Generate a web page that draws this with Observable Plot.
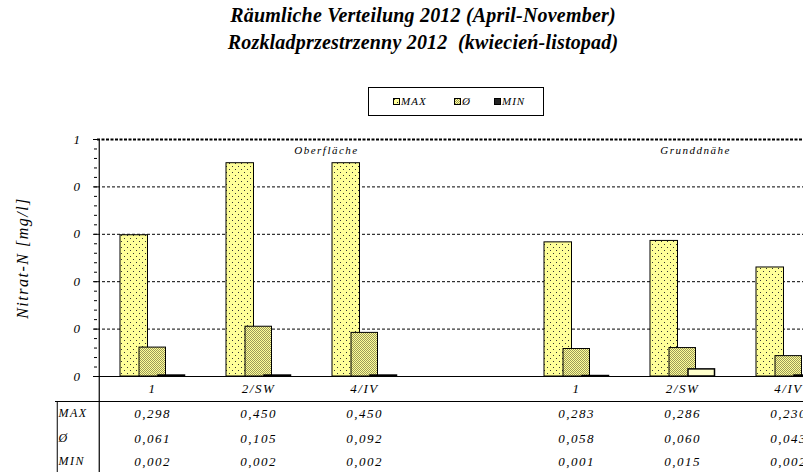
<!DOCTYPE html>
<html><head><meta charset="utf-8">
<script src="https://cdn.jsdelivr.net/npm/d3@7"></script>
<script src="https://cdn.jsdelivr.net/npm/@observablehq/plot@0.6"></script>
<style>
html,body{margin:0;padding:0;background:#fff;overflow:hidden;width:803px;height:472px;}
#wrap{position:relative;width:803px;height:472px;font-family:'Liberation Serif','Times New Roman',serif;}
#title{position:absolute;left:0;top:2px;width:846px;text-align:center;font-weight:bold;font-style:italic;font-size:20px;letter-spacing:0.2px;line-height:27px;white-space:pre;color:#000;}
#legend{position:absolute;left:368px;top:87px;width:176px;height:29px;border:1px solid #000;box-sizing:border-box;font-style:italic;font-size:11px;letter-spacing:1px;}
#legend .it{position:absolute;top:7px;display:flex;align-items:center;gap:1px;}
#legend svg{display:block}
#chart{position:absolute;left:0;top:120px;}
#chart text{letter-spacing:1.5px;}
</style></head>
<body>
<svg width="0" height="0" style="position:absolute">
<defs>
<pattern id="pMax" width="6" height="6" patternUnits="userSpaceOnUse">
<rect width="6" height="6" fill="#ffff99"/>
<rect x="1" y="1" width="1" height="1" fill="#333"/>
<rect x="4" y="4" width="1" height="1" fill="#333"/>
</pattern>
<pattern id="pAvg" width="2" height="2" patternUnits="userSpaceOnUse">
<rect width="2" height="2" fill="#ffff99"/>
<rect x="0" y="0" width="1" height="1" fill="#9c9a5a"/>
<rect x="1" y="1" width="1" height="1" fill="#9c9a5a"/>
</pattern>
</defs>
</svg>
<div id="wrap">
<div id="title">Räumliche Verteilung 2012 (April-November)
Rozkladprzestrzenny 2012  (kwiecień-listopad)</div>
<div id="legend"></div>
<div id="chart"></div>
</div>
<script>
// category slots (empty slot separates the two groups)
const slots = ["1", "2/SW", "4/IV", "", "1", "2/SW", "4/IV"];
const maxVals = [0.298, 0.450, 0.450, null, 0.283, 0.286, 0.230];
const avgVals = [0.061, 0.105, 0.092, null, 0.058, 0.060, 0.043];
const minVals = [0.002, 0.002, 0.002, null, 0.001, 0.015, 0.002];
const seriesNames = ["MAX", "Ø", "MIN"];
const groupNames = ["Oberfläche", "Grunddnähe"];
const yTicks = [0, 0.1, 0.2, 0.3, 0.4, 0.5];
const yAxisLabel = "Nitrat-N [mg/l]";

const keys = slots.map((s, i) => String(i));
const rows = slots.map((s, i) => ({key: keys[i], name: s, max: maxVals[i], avg: avgVals[i], min: minVals[i]}))
  .filter(d => d.max != null);
const fmt = v => v.toFixed(3).replace(".", ",");
const fills = {MAX: "url(#pMax)", "Ø": "url(#pAvg)", MIN: "#ffffcc"};

// legend
const leg = document.getElementById("legend");
const legPos = [24, 85, 125];
seriesNames.forEach((n, i) => {
  const it = document.createElement("div");
  it.className = "it";
  it.style.left = legPos[i] + "px";
  it.innerHTML = `<svg width="7" height="7"><rect x="0.5" y="0.5" width="6" height="6" fill="${i===2 ? '#222' : fills[n]}" stroke="#000" stroke-width="1"/></svg><span>${n}</span>`;
  leg.appendChild(it);
});

const FF = "Liberation Serif";
const font = {fontFamily: FF, fontStyle: "italic"};
const rowDy = [37, 62, 85];
const rowKeys = ["max", "avg", "min"];
const chart = Plot.plot({
  width: 803,
  height: 352,
  marginTop: 19,
  marginBottom: 96,
  marginLeft: 97,
  marginRight: 0,
  style: {fontFamily: FF, fontSize: "12px", fontStyle: "italic", background: "transparent", overflow: "hidden"},
  x: {type: "band", domain: keys, range: [97, 842.5], padding: 0, axis: null},
  y: {domain: [0, 0.5], axis: null},
  marks: [
    // grid and frame lines
    Plot.ruleY(yTicks.filter(t => t > 0 && t < 0.5), {stroke: "#000", strokeDasharray: "3,2", strokeWidth: 1}),
    Plot.ruleY([0.5], {stroke: "#000", strokeDasharray: "3,1.5", strokeWidth: 2}),
    // bars
    Plot.barY(rows, {x: "key", y: "max", fill: fills.MAX, stroke: "#000", strokeWidth: 1, insetLeft: 21, insetRight: 57.5}),
    Plot.barY(rows, {x: "key", y: "avg", fill: fills["Ø"], stroke: "#000", strokeWidth: 1, insetLeft: 40, insetRight: 39.5}),
    Plot.barY(rows, {x: "key", y: "min", fill: fills.MIN, stroke: "#000", strokeWidth: 1.5, insetLeft: 59, insetRight: 20.5}),
    Plot.ruleY([0], {stroke: "#000", strokeWidth: 1.2}),
    // y axis
    Plot.axisY(d3.range(0, 0.5001, 0.02), {tickSize: 3, text: null, stroke: "#000"}),
    Plot.axisY(yTicks, {tickSize: 4, tickFormat: d => String(Math.round(d)), tickPadding: 12, fontSize: 13, ...font}),
    Plot.text([yAxisLabel], {frameAnchor: "left", textAnchor: "middle", dx: -75, rotate: -90, fontSize: 16, ...font}),
    Plot.ruleX([keys[0]], {dx: -53.25, stroke: "#000", insetBottom: -96, strokeWidth: 1.2}),
    // group labels
    Plot.text([groupNames[0]], {x: () => keys[2], frameAnchor: "top", lineAnchor: "middle", dx: -38, dy: 11, fontSize: 11, ...font}),
    Plot.text([groupNames[1]], {x: () => keys[5], frameAnchor: "top", lineAnchor: "middle", dx: 13, dy: 11, fontSize: 11, ...font}),
    // data table
    Plot.ruleY([0], {dy: 25, insetLeft: -42, stroke: "#000", strokeWidth: 1}),
    Plot.ruleX([keys[0]], {dx: -95.25, insetTop: 262, insetBottom: -96, stroke: "#000"}),
    Plot.text(rows, {x: "key", text: "name", frameAnchor: "bottom", lineAnchor: "middle", dy: 12, fontSize: 13, ...font}),
    ...rowKeys.map((k, r) => Plot.text(rows, {x: "key", text: d => fmt(d[k]), frameAnchor: "bottom", lineAnchor: "middle", dy: rowDy[r], fontSize: 13, ...font})),
    ...seriesNames.map((n, r) => Plot.text([n], {frameAnchor: "bottom-left", textAnchor: "start", lineAnchor: "middle", dx: -39, dy: rowDy[r], fontSize: 12, ...font}))
  ]
});
document.getElementById("chart").appendChild(chart);
</script>
</body></html>
